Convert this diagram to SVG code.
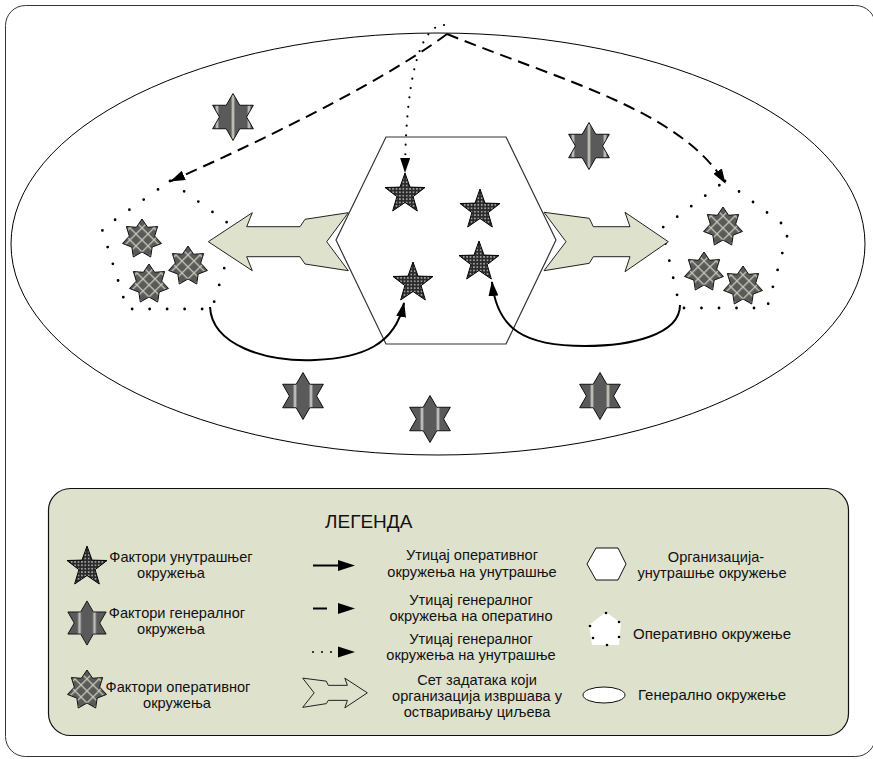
<svg xmlns="http://www.w3.org/2000/svg" xmlns:xlink="http://www.w3.org/1999/xlink" width="873" height="759" viewBox="0 0 873 759">
<style>
text{font-family:"Liberation Sans",Arial,sans-serif;fill:#111;}
.lt{font-size:14.6px;text-anchor:middle;}
.ls{font-size:15px;}
.arrowshape{fill:#dee1cc;stroke:#222;stroke-width:1;}
.dash{fill:none;stroke:#000;stroke-width:2;stroke-dasharray:12 7;}
.dots{fill:none;stroke:#000;stroke-width:2.8;stroke-linecap:round;stroke-dasharray:0 17.5;}
.dotline{fill:none;stroke:#000;stroke-width:2.2;stroke-linecap:round;stroke-dasharray:0 9.5;}
.solid{fill:none;stroke:#000;stroke-width:2;}
</style>
<defs>
<pattern id="dotpat" width="3.4" height="3.4" patternUnits="userSpaceOnUse">
<rect width="3.4" height="3.4" fill="#2a2a2a"/>
<circle cx="1.7" cy="1.7" r="0.85" fill="#c4c4c4"/>
</pattern>
<pattern id="stripeA" width="16" height="50" x="0" y="0" patternUnits="userSpaceOnUse">
<rect width="16" height="50" fill="#5a5a5a"/>
<rect x="7.2" width="1.6" height="50" fill="#e2e2d4"/>
<rect x="6.2" width="1" height="50" fill="#8a8a8a"/>
<rect x="8.8" width="1" height="50" fill="#8a8a8a"/>
</pattern>
<pattern id="stripeB" width="16" height="50" x="-8" y="0" patternUnits="userSpaceOnUse">
<rect width="16" height="50" fill="#5a5a5a"/>
<rect x="7.2" width="1.6" height="50" fill="#e2e2d4"/>
<rect x="6.2" width="1" height="50" fill="#8a8a8a"/>
<rect x="8.8" width="1" height="50" fill="#8a8a8a"/>
</pattern>
<pattern id="lattice" width="8.5" height="8.5" patternUnits="userSpaceOnUse" patternTransform="rotate(45)">
<rect width="8.5" height="8.5" fill="#5a5a5a"/>
<rect width="8.5" height="1.3" fill="#c8c8b8"/>
<rect width="1.3" height="8.5" fill="#c8c8b8"/>
</pattern>
<path id="star5" d="M0,-21 L5,-6.88 L19.97,-6.49 L8.08,2.63 L12.34,16.99 L0,8.5 L-12.34,16.99 L-8.08,2.63 L-19.97,-6.49 L-5,-6.88 Z" fill="url(#dotpat)" stroke="#000" stroke-width="1"/>
<path id="star6a" d="M0,-23.5 L6.78,-11.75 L20.35,-11.75 L13.57,0 L20.35,11.75 L6.78,11.75 L0,23.5 L-6.78,11.75 L-20.35,11.75 L-13.57,0 L-20.35,-11.75 L-6.78,-11.75 Z" fill="url(#stripeA)" stroke="#111" stroke-width="1"/>
<path id="star6b" d="M0,-23.5 L6.78,-11.75 L20.35,-11.75 L13.57,0 L20.35,11.75 L6.78,11.75 L0,23.5 L-6.78,11.75 L-20.35,11.75 L-13.57,0 L-20.35,-11.75 L-6.78,-11.75 Z" fill="url(#stripeB)" stroke="#111" stroke-width="1"/>
<path id="star7" d="M0,-20 L5.64,-11.71 L15.64,-12.47 L12.67,-2.89 L19.5,4.45 L10.16,8.11 L8.68,18.02 L0,13 L-8.68,18.02 L-10.16,8.11 L-19.5,4.45 L-12.67,-2.89 L-15.64,-12.47 L-5.64,-11.71 Z" fill="url(#lattice)" stroke="#111" stroke-width="1"/>
<marker id="ah" viewBox="0 0 15 10" refX="14" refY="5" markerWidth="15" markerHeight="10" orient="auto" markerUnits="userSpaceOnUse">
<path d="M0,0 L15,5 L0,10 Z" fill="#000"/>
</marker>
</defs>

<rect x="5.5" y="5.5" width="870" height="751" rx="20" fill="#fff" stroke="#333" stroke-width="1"/>

<g id="general-environment">
<ellipse cx="438" cy="244" rx="427" ry="211" fill="none" stroke="#000" stroke-width="1"/>
</g>

<g id="organization">
<polygon points="386,137 506,137 556,240 506,344 386,344 336,240" fill="#fff" stroke="#333" stroke-width="1.2"/>
</g>

<g id="operative-left">
<polygon class="dots" points="170,181 236,229 212,309 127,309 102,229"/>
</g>
<g id="operative-right">
<polygon class="dots" points="725,181 789,229 767,308 680,308 662,228"/>
</g>

<g id="task-arrow-left">
<polygon class="arrowshape" points="208.3,241.7 252.3,212.7 246.7,226.7 300,226.7 305,219.3 348.3,212.7 326.7,241.7 348.3,270.7 305,264 300,256.7 246.7,256.7 252.3,270.7"/>
</g>
<g id="task-arrow-right">
<polygon class="arrowshape" points="544,212.3 589.3,218.3 593.3,226.7 630,226.7 625,212.3 668.3,241.7 625,271.7 630,256.7 593.3,256.7 589.3,263.3 544,270.7 566,241.7"/>
</g>

<g id="internal-factors">
<use xlink:href="#star5" href="#star5" x="405" y="194"/>
<use xlink:href="#star5" href="#star5" x="480" y="210"/>
<use xlink:href="#star5" href="#star5" x="413" y="283"/>
<use xlink:href="#star5" href="#star5" x="479" y="262"/>
</g>

<g id="general-factors">
<use xlink:href="#star6b" href="#star6b" x="233" y="117"/>
<use xlink:href="#star6b" href="#star6b" x="589" y="146"/>
<use xlink:href="#star6a" href="#star6a" x="303" y="396"/>
<use xlink:href="#star6a" href="#star6a" x="430" y="419"/>
<use xlink:href="#star6a" href="#star6a" x="600" y="396"/>
</g>

<g id="operative-factors">
<use xlink:href="#star7" href="#star7" x="142" y="239"/>
<use xlink:href="#star7" href="#star7" x="188" y="266"/>
<use xlink:href="#star7" href="#star7" x="149" y="284"/>
<use xlink:href="#star7" href="#star7" x="723" y="227"/>
<use xlink:href="#star7" href="#star7" x="704" y="272"/>
<use xlink:href="#star7" href="#star7" x="743" y="286"/>
</g>

<g id="connectors">
<path class="dash" d="M447,34 C410,62 320,115 171,181" marker-end="url(#ah)"/>
<path class="dash" d="M447,34 C560,80 680,110 725,183" marker-end="url(#ah)"/>
<path class="dotline" d="M444,25 C425,25 406,60 405,172" marker-end="url(#ah)"/>
<path class="solid" d="M210,307 C212,345 265,362 315,360 C362,358 395,345 404,303" marker-end="url(#ah)"/>
<path class="solid" d="M680,305 C680,335 630,346 585,346 C525,346 497,330 492,282" marker-end="url(#ah)"/>
</g>

<g id="legend">
<rect x="48.5" y="488.5" width="800" height="247" rx="22" fill="#dee1cc" stroke="#111" stroke-width="1.2"/>
<text x="325" y="528" style="font-size:19px">ЛЕГЕНДА</text>

<use xlink:href="#star5" href="#star5" x="87" y="567"/>
<text class="lt" x="181" y="562">Фактори унутрашњег</text>
<text class="lt" x="171" y="577.5">окружења</text>

<use xlink:href="#star6a" href="#star6a" x="87" y="623" transform="translate(87,623) scale(0.94) translate(-87,-623)"/>
<text class="lt" x="177" y="618">Фактори генералног</text>
<text class="lt" x="171" y="633.5">окружења</text>

<use xlink:href="#star7" href="#star7" x="87" y="690"/>
<text class="lt" x="178" y="692">Фактори оперативног</text>
<text class="lt" x="177" y="707.5">окружења</text>

<line x1="313" y1="565.5" x2="340" y2="565.5" stroke="#000" stroke-width="2"/>
<polygon points="338,560 355,565.5 338,571" fill="#000"/>
<text class="lt" x="472" y="560">Утицај оперативног</text>
<text class="lt" x="472" y="577">окружења на унутрашње</text>

<line x1="313" y1="608.5" x2="327" y2="608.5" stroke="#000" stroke-width="2"/>
<polygon points="338,603 355,608.5 338,614" fill="#000"/>
<text class="lt" x="471" y="605">Утицај генералног</text>
<text class="lt" x="471" y="621">окружења на оператино</text>

<circle cx="313" cy="652" r="1" fill="#000"/>
<circle cx="322" cy="652" r="1" fill="#000"/>
<circle cx="331" cy="652" r="1" fill="#000"/>
<polygon points="338,646.5 355,652 338,657.5" fill="#000"/>
<text class="lt" x="471" y="644">Утицај генералног</text>
<text class="lt" x="471" y="659.5">окружења на унутрашње</text>

<polygon class="arrowshape" transform="translate(302.7,678) scale(0.52,0.5) translate(-544,-212)" vector-effect="non-scaling-stroke" points="544,212.3 589.3,218.3 593.3,226.7 630,226.7 625,212.3 668.3,241.7 625,271.7 630,256.7 593.3,256.7 589.3,263.3 544,270.7 566,241.7"/>
<text class="lt" x="477" y="685">Сет задатака који</text>
<text class="lt" x="477" y="701">организација извршава у</text>
<text class="lt" x="477" y="717">остваривању циљева</text>

<polygon points="587,564 596,548 618,548 626,564 618,580 596,580" fill="#fff" stroke="#111" stroke-width="1"/>
<text class="lt" x="716" y="562">Организација-</text>
<text class="lt" x="712" y="577.5">унутрашње окружење</text>

<polygon points="606,612 621,623 619,645 592,645 589,625" fill="#fff"/>
<g fill="#000">
<circle cx="606" cy="613" r="1.3"/>
<circle cx="590" cy="626" r="1.3"/>
<circle cx="619" cy="622" r="1.3"/>
<circle cx="593" cy="638" r="1.3"/>
<circle cx="619" cy="637" r="1.3"/>
<circle cx="607" cy="645" r="1.3"/>
</g>
<text class="ls" x="633" y="639">Оперативно окружење</text>

<ellipse cx="604" cy="695" rx="21" ry="8" fill="#fff" stroke="#111" stroke-width="1"/>
<text class="ls" x="638" y="700">Генерално окружење</text>
</g>
</svg>
